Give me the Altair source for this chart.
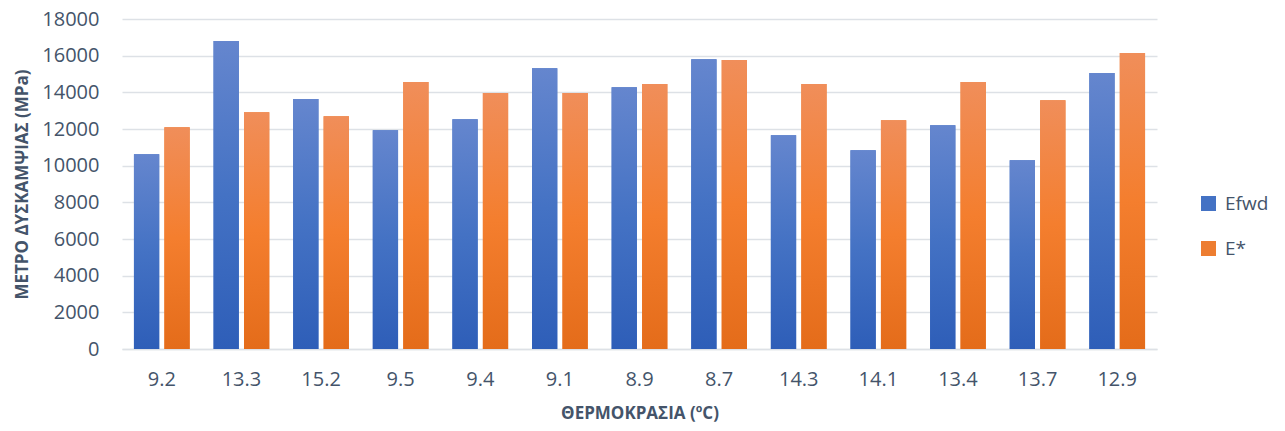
import altair as alt
import pandas as pd

temps = ["9.2", "13.3", "15.2", "9.5", "9.4", "9.1", "8.9", "8.7", "14.3", "14.1", "13.4", "13.7", "12.9"]
series = ["Efwd", "E*"]
efwd = [10620, 16800, 13630, 11930, 12530, 15320, 14280, 15810, 11660, 10840, 12210, 10290, 15050]
estar = [12100, 12920, 12700, 14560, 13960, 13960, 14450, 15760, 14450, 12480, 14560, 13570, 16140]

rows = []
for t, a, b in zip(temps, efwd, estar):
    rows.append({"temp": t, "series": "Efwd", "value": a})
    rows.append({"temp": t, "series": "E*", "value": b})
df = pd.DataFrame(rows)

FONT = "Open Sans"
TXT = "#44546A"
GRID = "#DDE1E6"

blue_grad = alt.LinearGradient(
    gradient="linear", x1=0, y1=0, x2=0, y2=1,
    stops=[alt.GradientStop(offset=0, color="#6586CE"),
           alt.GradientStop(offset=0.5, color="#4472C4"),
           alt.GradientStop(offset=1, color="#2E5EB8")])
orange_grad = alt.LinearGradient(
    gradient="linear", x1=0, y1=0, x2=0, y2=1,
    stops=[alt.GradientStop(offset=0, color="#F08E5A"),
           alt.GradientStop(offset=0.5, color="#F47E2E"),
           alt.GradientStop(offset=1, color="#E46C1A")])

base = alt.Chart(df).encode(
    x=alt.X("temp:N", sort=temps,
            scale=alt.Scale(paddingInner=0.3, paddingOuter=0.15),
            axis=alt.Axis(title="ΘΕΡΜΟΚΡΑΣΙΑ (ºC)", labelAngle=0, ticks=False,
                          labelPadding=20, titlePadding=16, domainColor=GRID,
                          domainWidth=1.5, grid=False)),
    xOffset=alt.XOffset("series:N", sort=series,
                        scale=alt.Scale(domain=series, paddingInner=0.17, paddingOuter=0)),
    y=alt.Y("value:Q", scale=alt.Scale(domain=[0, 18000], nice=False),
            axis=alt.Axis(title="ΜΕΤΡΟ ΔΥΣΚΑΜΨΙΑΣ (MPa)", values=list(range(0, 18001, 2000)),
                          format="d", ticks=False, domain=False, labelPadding=23,
                          titlePadding=10, gridColor=GRID, gridWidth=1.5)),
)

legend_layer = base.mark_bar().encode(
    color=alt.Color("series:N", sort=series,
                    scale=alt.Scale(domain=series, range=["#4472C4", "#ED7D31"]),
                    legend=alt.Legend(title=None, orient="none", legendX=1077, legendY=175,
                                      symbolType="square", symbolSize=225,
                                      symbolStrokeWidth=0, rowPadding=25,
                                      labelFontSize=19, labelFont=FONT,
                                      labelColor=TXT, labelOffset=7))
)

blue_layer = base.transform_filter(alt.datum.series == "Efwd").mark_bar(fill=blue_grad)
orange_layer = base.transform_filter(alt.datum.series == "E*").mark_bar(fill=orange_grad)

chart = alt.layer(legend_layer, blue_layer, orange_layer).properties(
    width=1035, height=330,
    padding={"left": 5, "top": 1, "right": 0, "bottom": 5},
).configure_view(stroke=None).configure_axis(
    labelFont=FONT, labelFontSize=20, labelColor=TXT,
    titleFont=FONT, titleFontSize=17, titleFontWeight="bold", titleColor=TXT,
)

chart.save("out.html", embed_options={"renderer": "svg", "actions": False})
